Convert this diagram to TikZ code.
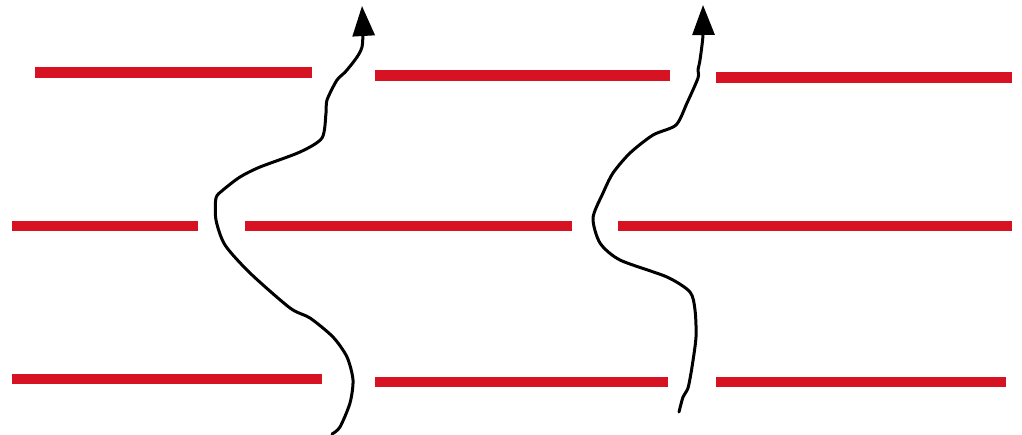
\documentclass[tikz,border=0pt]{standalone}
\usetikzlibrary{arrows.meta}
\definecolor{barred}{RGB}{215,18,34}
\begin{document}
\begin{tikzpicture}[x=1pt,y=-1pt,
  bar/.style={draw=barred,line width=10.5pt},
  wave/.style={draw=black,line width=3pt,line join=round,line cap=round,
    -{Triangle[length=30pt,width=22pt]}}]
\useasboundingbox (0,0) rectangle (1022,434);
% row 1
\draw[bar] (35,72.5) -- (312,72.5);
\draw[bar] (375,75.5) -- (670,75.5);
\draw[bar] (716,77.5) -- (1012,77.5);
% row 2
\draw[bar] (12,226) -- (198,226);
\draw[bar] (245,226) -- (572,226);
\draw[bar] (618,226) -- (1012,226);
% row 3
\draw[bar] (12,379) -- (322,379);
\draw[bar] (375,382) -- (668,382);
\draw[bar] (716,382) -- (1006,382);
% left wave
\draw[wave] plot[smooth,tension=0.45] coordinates {
 (332,434) (340,427) (350,403) (353,380) (347,357) (333,337) (310,318)
 (290,308) (250,273) (225,245) (216,220) (216,198) (223,190) (240,177)
 (260,167) (300,152) (322,138) (326,113) (327,100) (337,80) (347,70)
 (362,47) (362,6)};
% right wave
\draw[wave] plot[smooth,tension=0.45] coordinates {
 (679,412) (683,397) (688,388) (692,367) (696,337) (695,310) (690,292)
 (667,277) (620,260) (600,243) (593,218) (603,193) (613,173) (630,153)
 (653,135) (676,125) (687,103) (698,78) (698,70) (700,60) (703,35) (703,5)};
\end{tikzpicture}
\end{document}
